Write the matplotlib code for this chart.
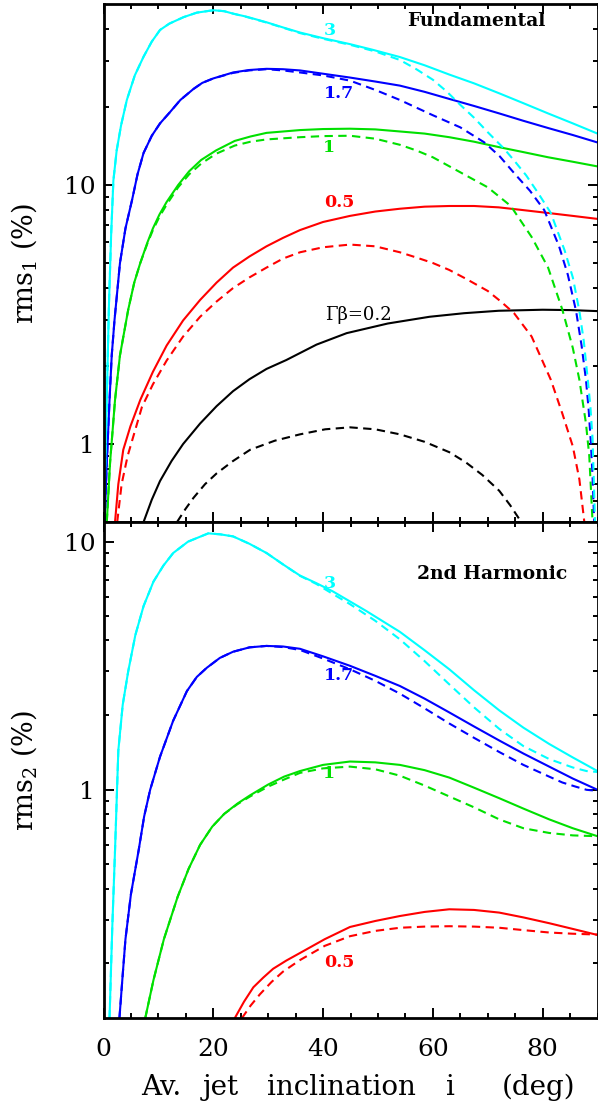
import matplotlib
matplotlib.use("Agg")
import matplotlib.pyplot as plt
from matplotlib.ticker import FixedLocator, FixedFormatter, NullFormatter, MultipleLocator

plt.rcParams['font.family'] = ['DejaVu Serif']
plt.rcParams['mathtext.fontset'] = 'dejavuserif'

# ---------------- data: Fundamental (top panel) ----------------
t3_sx = [0.1, 0.3, 0.6, 1.0, 1.4, 1.8, 2.4, 3.2, 4.25, 5.7, 7.3, 8.8, 10.3, 12.0, 14.6, 17.0, 20.0, 22.0, 23.6, 26.0,
         29.7, 32.7, 35.8, 40.0, 44.9, 49.0, 54.0, 58.5, 63.0, 67.5, 72.1, 76.5, 81.0, 85.5, 90.0]
t3_sy = [0.5, 0.8, 1.48, 3.5, 6.5, 10.4, 13.6, 17.0, 21.3, 26.5, 31.3, 35.8, 39.7, 42.0, 44.5, 46.3, 47.3, 46.9, 45.9, 44.7,
         42.5, 40.6, 38.8, 36.9, 35.0, 33.3, 31.2, 29.0, 26.7, 24.7, 22.6, 20.7, 18.9, 17.3, 15.8]
t3_dx = [0.1, 0.3, 0.6, 1.0, 1.4, 1.8, 2.4, 3.2, 4.25, 5.7, 7.3, 8.8, 10.3, 12.0, 14.6, 17.0, 20.0, 22.0, 23.6, 26.0,
         29.7, 32.7, 35.8, 40.0, 44.9, 49.5, 54.0, 57.0, 60.0, 62.5, 65.0, 67.5, 70.0, 73.0, 75.0, 77.0, 79.2, 81.5,
         84.0, 85.5, 86.7, 87.5, 88.2, 88.7, 89.1, 89.55]
t3_dy = [0.5, 0.8, 1.48, 3.5, 6.5, 10.4, 13.6, 17.0, 21.3, 26.5, 31.3, 35.8, 39.7, 42.0, 44.5, 46.3, 47.3, 46.9, 45.9, 44.6,
         42.4, 40.5, 38.6, 36.7, 34.8, 32.8, 30.4, 28.0, 25.5, 23.0, 20.4, 18.2, 16.0, 13.8, 12.3, 10.9, 9.3, 7.8,
         5.6, 4.4, 3.26, 2.5, 1.8, 1.4, 1.05, 0.5]

t17_sx = [0.2, 0.6, 1.1, 1.5, 2.0, 3.0, 4.0, 5.2, 6.2, 7.3, 8.8, 10.3, 12.0, 14.0, 16.4, 18.0, 20.0, 23.6, 26.5,
          29.7, 32.7, 35.8, 40.0, 44.9, 49.5, 54.0, 58.5, 63.0, 67.5, 72.1, 76.5, 81.0, 85.5, 90.0]
t17_sy = [0.5, 0.85, 1.48, 2.2, 3.0, 5.0, 6.8, 8.75, 11.0, 13.3, 15.5, 17.3, 19.0, 21.3, 23.5, 24.8, 25.8, 27.2, 27.8,
          28.1, 28.0, 27.7, 26.9, 26.0, 25.1, 24.2, 22.9, 21.5, 20.2, 18.9, 17.7, 16.6, 15.6, 14.6]
t17_dx = [0.2, 0.6, 1.1, 1.5, 2.0, 3.0, 4.0, 5.2, 6.2, 7.3, 8.8, 10.3, 12.0, 14.0, 16.4, 18.0, 20.0, 23.6, 26.5,
          29.7, 32.7, 35.8, 40.0, 44.9, 49.5, 54.0, 57.0, 60.0, 65.0, 69.4, 72.2, 75.0, 77.7, 80.3, 83.0, 84.6,
          86.1, 87.1, 87.9, 88.4, 88.8, 89.1, 89.4]
t17_dy = [0.5, 0.85, 1.48, 2.2, 3.0, 5.0, 6.8, 8.75, 11.0, 13.3, 15.5, 17.3, 19.0, 21.3, 23.5, 24.8, 25.8, 27.1, 27.7,
          28.0, 27.7, 27.2, 26.5, 25.3, 23.3, 21.3, 19.9, 18.6, 16.7, 14.6, 12.9, 11.0, 9.5, 8.0, 5.8, 4.5,
          3.26, 2.4, 1.77, 1.35, 1.0, 0.75, 0.5]

t1_sx = [0.6, 1.2, 2.1, 3.0, 4.5, 5.6, 6.7, 8.0, 9.0, 10.2, 11.5, 13.6, 15.6, 17.8, 20.5, 23.9, 26.8, 29.7, 35.8,
         40.0, 44.9, 49.5, 54.0, 58.5, 63.0, 67.5, 72.1, 76.5, 81.0, 85.5, 90.0]
t1_sy = [0.5, 0.85, 1.48, 2.2, 3.3, 4.2, 5.0, 6.0, 6.8, 7.7, 8.6, 10.0, 11.3, 12.5, 13.6, 14.8, 15.4, 15.9, 16.3,
         16.45, 16.5, 16.4, 16.1, 15.8, 15.3, 14.7, 14.0, 13.4, 12.8, 12.3, 11.8]
t1_dx = [0.6, 1.2, 2.1, 3.0, 4.5, 5.6, 6.7, 8.0, 9.0, 10.2, 11.5, 13.6, 15.6, 17.8, 20.5, 23.9, 26.8, 29.7, 35.8,
         40.0, 44.9, 49.5, 54.0, 57.0, 60.0, 65.0, 70.0, 74.2, 78.0, 81.0, 83.6, 85.5, 86.7, 87.9, 88.5, 89.1]
t1_dy = [0.5, 0.85, 1.48, 2.2, 3.3, 4.2, 5.0, 5.95, 6.7, 7.55, 8.4, 9.8, 11.0, 12.1, 13.2, 14.2, 14.7, 15.0, 15.3,
         15.45, 15.5, 15.1, 14.3, 13.6, 12.8, 11.2, 9.8, 8.3, 6.3, 4.8, 3.3, 2.35, 1.77, 1.2, 0.9, 0.5]

t05_sx = [2.1, 2.7, 3.6, 4.9, 6.7, 9.0, 11.5, 14.5, 17.6, 20.6, 23.6, 26.6, 29.7, 32.7, 35.8, 40.0, 44.9, 49.5,
          54.0, 58.5, 63.0, 67.5, 72.0, 76.5, 81.0, 85.5, 90.0]
t05_sy = [0.5, 0.70, 0.95, 1.17, 1.48, 1.9, 2.4, 3.0, 3.6, 4.2, 4.8, 5.3, 5.8, 6.25, 6.7, 7.2, 7.6, 7.9,
          8.1, 8.25, 8.3, 8.3, 8.2, 8.0, 7.8, 7.6, 7.4]
t05_dx = [2.5, 3.3, 4.4, 5.6, 7.0, 9.0, 11.5, 14.5, 17.6, 20.6, 23.6, 26.6, 29.7, 32.7, 35.8, 40.0, 44.9, 49.5,
          54.0, 57.0, 60.0, 63.0, 66.0, 70.0, 72.4, 74.8, 78.0, 81.5, 83.6, 85.5, 86.7, 87.6]
t05_dy = [0.5, 0.7, 0.9, 1.1, 1.39, 1.7, 2.1, 2.6, 3.1, 3.55, 4.0, 4.4, 4.8, 5.2, 5.5, 5.75, 5.89, 5.8,
          5.5, 5.25, 5.0, 4.7, 4.35, 3.9, 3.55, 3.2, 2.6, 1.77, 1.31, 0.98, 0.73, 0.5]

t02_sx = [7.3, 8.8, 10.3, 12.4, 14.5, 17.6, 20.6, 23.6, 26.6, 29.7, 33.3, 38.8, 44.3, 51.8, 59.4, 65.7, 72.0, 80.0, 85.0, 90.0]
t02_sy = [0.5, 0.61, 0.72, 0.86, 1.0, 1.2, 1.4, 1.6, 1.78, 1.95, 2.11, 2.42, 2.68, 2.92, 3.10, 3.20, 3.27, 3.30, 3.29, 3.26]
t02_dx = [13.4, 14.9, 16.4, 18.5, 20.6, 23.6, 26.7, 31.2, 35.8, 40.4, 44.9, 49.5, 54.0, 58.5, 63.0, 66.0, 69.0, 72.1, 74.1, 76.1]
t02_dy = [0.5, 0.56, 0.62, 0.70, 0.77, 0.86, 0.95, 1.03, 1.09, 1.14, 1.16, 1.14, 1.09, 1.02, 0.93, 0.85, 0.76, 0.66, 0.58, 0.5]

# ---------------- data: 2nd Harmonic (bottom panel) ----------------
b3_sx = [1.1, 1.6, 2.1, 2.7, 3.5, 4.5, 5.8, 7.3, 9.1, 10.9, 12.7, 15.4, 18.2, 19.1, 21.3, 23.6, 26.6, 29.7, 32.7,
         35.8, 38.8, 41.8, 47.9, 54.0, 58.5, 63.0, 67.5, 72.1, 76.5, 81.2, 85.5, 90.0]
b3_sy = [0.12, 0.28, 0.57, 1.44, 2.2, 3.0, 4.2, 5.5, 6.9, 8.0, 9.0, 10.0, 10.6, 10.8, 10.7, 10.5, 9.8, 9.0, 8.1,
         7.3, 6.8, 6.3, 5.25, 4.33, 3.65, 3.06, 2.52, 2.09, 1.78, 1.53, 1.35, 1.19]
b3_dx = [1.1, 1.6, 2.1, 2.7, 3.5, 4.5, 5.8, 7.3, 9.1, 10.9, 12.7, 15.4, 18.2, 19.1, 21.3, 23.6, 26.6, 29.7, 32.7,
         35.8, 38.8, 41.8, 44.9, 49.5, 54.0, 58.5, 63.0, 67.5, 72.1, 76.5, 81.2, 85.5, 88.0, 90.0]
b3_dy = [0.12, 0.28, 0.57, 1.44, 2.2, 3.0, 4.2, 5.5, 6.9, 8.0, 9.0, 10.0, 10.6, 10.8, 10.7, 10.5, 9.8, 9.0, 8.1,
         7.28, 6.75, 6.15, 5.6, 4.8, 4.04, 3.3, 2.66, 2.15, 1.76, 1.5, 1.33, 1.23, 1.19, 1.18]

b17_sx = [2.9, 3.5, 4.0, 5.0, 6.4, 7.4, 8.5, 10.3, 12.7, 15.2, 17.0, 18.8, 21.2, 23.6, 26.6, 29.7, 32.7, 35.8, 40.0,
          44.9, 49.5, 54.0, 58.5, 63.0, 67.5, 72.1, 76.5, 81.2, 85.5, 90.0]
b17_sy = [0.12, 0.18, 0.25, 0.38, 0.57, 0.78, 1.0, 1.36, 1.9, 2.5, 2.85, 3.1, 3.4, 3.6, 3.75, 3.8, 3.78, 3.7, 3.45,
          3.16, 2.88, 2.62, 2.33, 2.05, 1.8, 1.58, 1.4, 1.24, 1.11, 1.0]
b17_dx = [2.9, 3.5, 4.0, 5.0, 6.4, 7.4, 8.5, 10.3, 12.7, 15.2, 17.0, 18.8, 21.2, 23.6, 26.6, 29.7, 32.7, 35.8, 40.0,
          44.9, 49.5, 54.0, 58.5, 63.0, 67.5, 72.1, 76.5, 81.2, 83.6, 86.0, 88.0, 90.0]
b17_dy = [0.12, 0.18, 0.25, 0.38, 0.57, 0.78, 1.0, 1.36, 1.9, 2.5, 2.85, 3.1, 3.4, 3.6, 3.75, 3.8, 3.76, 3.66, 3.38,
          3.06, 2.75, 2.44, 2.13, 1.85, 1.62, 1.42, 1.26, 1.13, 1.07, 1.03, 1.0, 0.99]

b1_sx = [7.6, 9.1, 11.0, 13.5, 15.5, 17.6, 19.8, 22.0, 24.4, 26.7, 30.0, 32.9, 35.8, 40.0, 44.9, 49.5, 54.0, 58.5,
         63.0, 67.5, 72.1, 76.5, 81.2, 85.5, 90.0]
b1_sy = [0.12, 0.171, 0.25, 0.37, 0.48, 0.6, 0.71, 0.8, 0.88, 0.95, 1.05, 1.13, 1.19, 1.26, 1.30, 1.29, 1.26, 1.2,
         1.12, 1.02, 0.925, 0.84, 0.76, 0.70, 0.65]
b1_dx = [7.6, 9.1, 11.0, 13.5, 15.5, 17.6, 19.8, 22.0, 24.4, 26.7, 30.0, 32.9, 35.8, 40.0, 44.9, 49.5, 54.0, 58.5,
         63.0, 67.5, 72.1, 76.5, 81.2, 85.5, 90.0]
b1_dy = [0.12, 0.171, 0.25, 0.37, 0.48, 0.6, 0.71, 0.8, 0.875, 0.94, 1.03, 1.10, 1.17, 1.22, 1.24, 1.21, 1.14, 1.04,
         0.94, 0.85, 0.76, 0.70, 0.67, 0.655, 0.65]

b05_sx = [23.9, 25.6, 27.3, 29.1, 30.9, 33.3, 35.8, 40.3, 44.9, 49.5, 54.0, 58.5, 63.0, 67.5, 72.1, 76.5, 81.2, 85.5, 90.0]
b05_sy = [0.12, 0.14, 0.16, 0.175, 0.19, 0.205, 0.22, 0.25, 0.28, 0.296, 0.31, 0.322, 0.33, 0.328, 0.32, 0.306, 0.29, 0.275, 0.26]
b05_dx = [25.2, 26.8, 28.5, 30.6, 32.7, 35.8, 40.3, 44.9, 49.5, 54.0, 58.5, 63.0, 67.5, 72.1, 76.5, 81.2, 85.5, 90.0]
b05_dy = [0.12, 0.135, 0.15, 0.168, 0.185, 0.206, 0.235, 0.257, 0.27, 0.278, 0.281, 0.282, 0.281, 0.278, 0.272, 0.266, 0.263, 0.261]

CYAN = '#00ffff'
BLUE = '#0000ff'
GREEN = '#00e000'
RED = '#ff0000'
BLACK = '#000000'

W, H = 598, 1107
fig = plt.figure(figsize=(W / 100, H / 100), dpi=100)
left = 103.5 / W
width = 494 / W
ax1 = fig.add_axes([left, (H - 522) / H, width, 518 / H])
ax2 = fig.add_axes([left, (H - 1018.3) / H, width, 496.3 / H])

LW = 1.5
DASH = (0, (4, 2.6))

def draw(ax, pairs):
    for xs, ys, c, ls in pairs:
        ax.plot(xs, ys, color=c, lw=LW, linestyle=ls, solid_capstyle='butt', solid_joinstyle='round')

draw(ax1, [
    (t02_dx, t02_dy, BLACK, DASH), (t02_sx, t02_sy, BLACK, '-'),
    (t05_dx, t05_dy, RED, DASH), (t05_sx, t05_sy, RED, '-'),
    (t1_dx, t1_dy, GREEN, DASH), (t1_sx, t1_sy, GREEN, '-'),
    (t17_dx, t17_dy, BLUE, DASH), (t17_sx, t17_sy, BLUE, '-'),
    (t3_dx, t3_dy, CYAN, DASH), (t3_sx, t3_sy, CYAN, '-'),
])
draw(ax2, [
    (b05_dx, b05_dy, RED, DASH), (b05_sx, b05_sy, RED, '-'),
    (b1_dx, b1_dy, GREEN, DASH), (b1_sx, b1_sy, GREEN, '-'),
    (b17_dx, b17_dy, BLUE, DASH), (b17_sx, b17_sy, BLUE, '-'),
    (b3_dx, b3_dy, CYAN, DASH), (b3_sx, b3_sy, CYAN, '-'),
])

def style(ax, ylo, yhi, minors):
    ax.set_xlim(0, 90)
    ax.set_yscale('log')
    ax.set_ylim(ylo, yhi)
    ax.xaxis.set_major_locator(MultipleLocator(20))
    ax.xaxis.set_minor_locator(MultipleLocator(5))
    ax.yaxis.set_major_locator(FixedLocator([1, 10]))
    ax.yaxis.set_major_formatter(FixedFormatter(['1', '10']))
    ax.yaxis.set_minor_locator(FixedLocator(minors))
    ax.yaxis.set_minor_formatter(NullFormatter())
    for s in ax.spines.values():
        s.set_linewidth(2.0)
    ax.tick_params(which='both', direction='in', top=True, right=True, width=1.4)
    ax.tick_params(which='major', length=7.2)
    ax.tick_params(which='minor', length=3.6)
    ax.tick_params(axis='y', which='major', labelsize=18, pad=6)
    ax.tick_params(axis='x', which='major', labelsize=18, pad=14)

style(ax1, 0.5, 50, [0.6, 0.7, 0.8, 0.9, 2, 3, 4, 5, 6, 7, 8, 9, 20, 30, 40])
style(ax2, 0.12, 12, [0.2, 0.3, 0.4, 0.5, 0.6, 0.7, 0.8, 0.9, 2, 3, 4, 5, 6, 7, 8, 9])
ax1.tick_params(axis='x', labelbottom=False)

ax1.set_ylabel(r'$\mathrm{rms}_1$ (%)', fontsize=19.5, labelpad=18)
ax2.set_ylabel(r'$\mathrm{rms}_2$ (%)', fontsize=19.5, labelpad=18)

# x-axis title, words centred where the reference (wide letter spacing) puts them
xl_words = ['Av.', 'jet', 'inclination', 'i', '(deg)']
xl_center_px = [161, 221, 341, 450, 539]
for wd, px in zip(xl_words, xl_center_px):
    fig.text(px / W, (H - 1095) / H, wd, ha='center', va='baseline', fontsize=20)

ax1.text(0.894, 0.968, 'Fundamental', transform=ax1.transAxes, ha='right', va='center',
         fontsize=13.5, fontweight='bold')
ax2.text(0.938, 0.895, '2nd Harmonic', transform=ax2.transAxes, ha='right', va='center',
         fontsize=13.5, fontweight='bold')

lab = dict(ha='center', va='center', fontsize=12.5, fontweight='bold')
ax1.text(41.2, 39.5, '3', color=CYAN, **lab)
ax1.text(42.9, 22.5, '1.7', color=BLUE, **lab)
ax1.text(41.1, 13.9, '1', color=GREEN, **lab)
ax1.text(42.9, 8.55, '0.5', color=RED, **lab)
ax1.text(46.4, 3.15, 'Γβ=0.2', color=BLACK, ha='center', va='center', fontsize=13)

ax2.text(41.2, 6.8, '3', color=CYAN, **lab)
ax2.text(42.9, 2.90, '1.7', color=BLUE, **lab)
ax2.text(41.1, 1.16, '1', color=GREEN, **lab)
ax2.text(42.9, 0.201, '0.5', color=RED, **lab)

fig.savefig('out.png', dpi=100)
